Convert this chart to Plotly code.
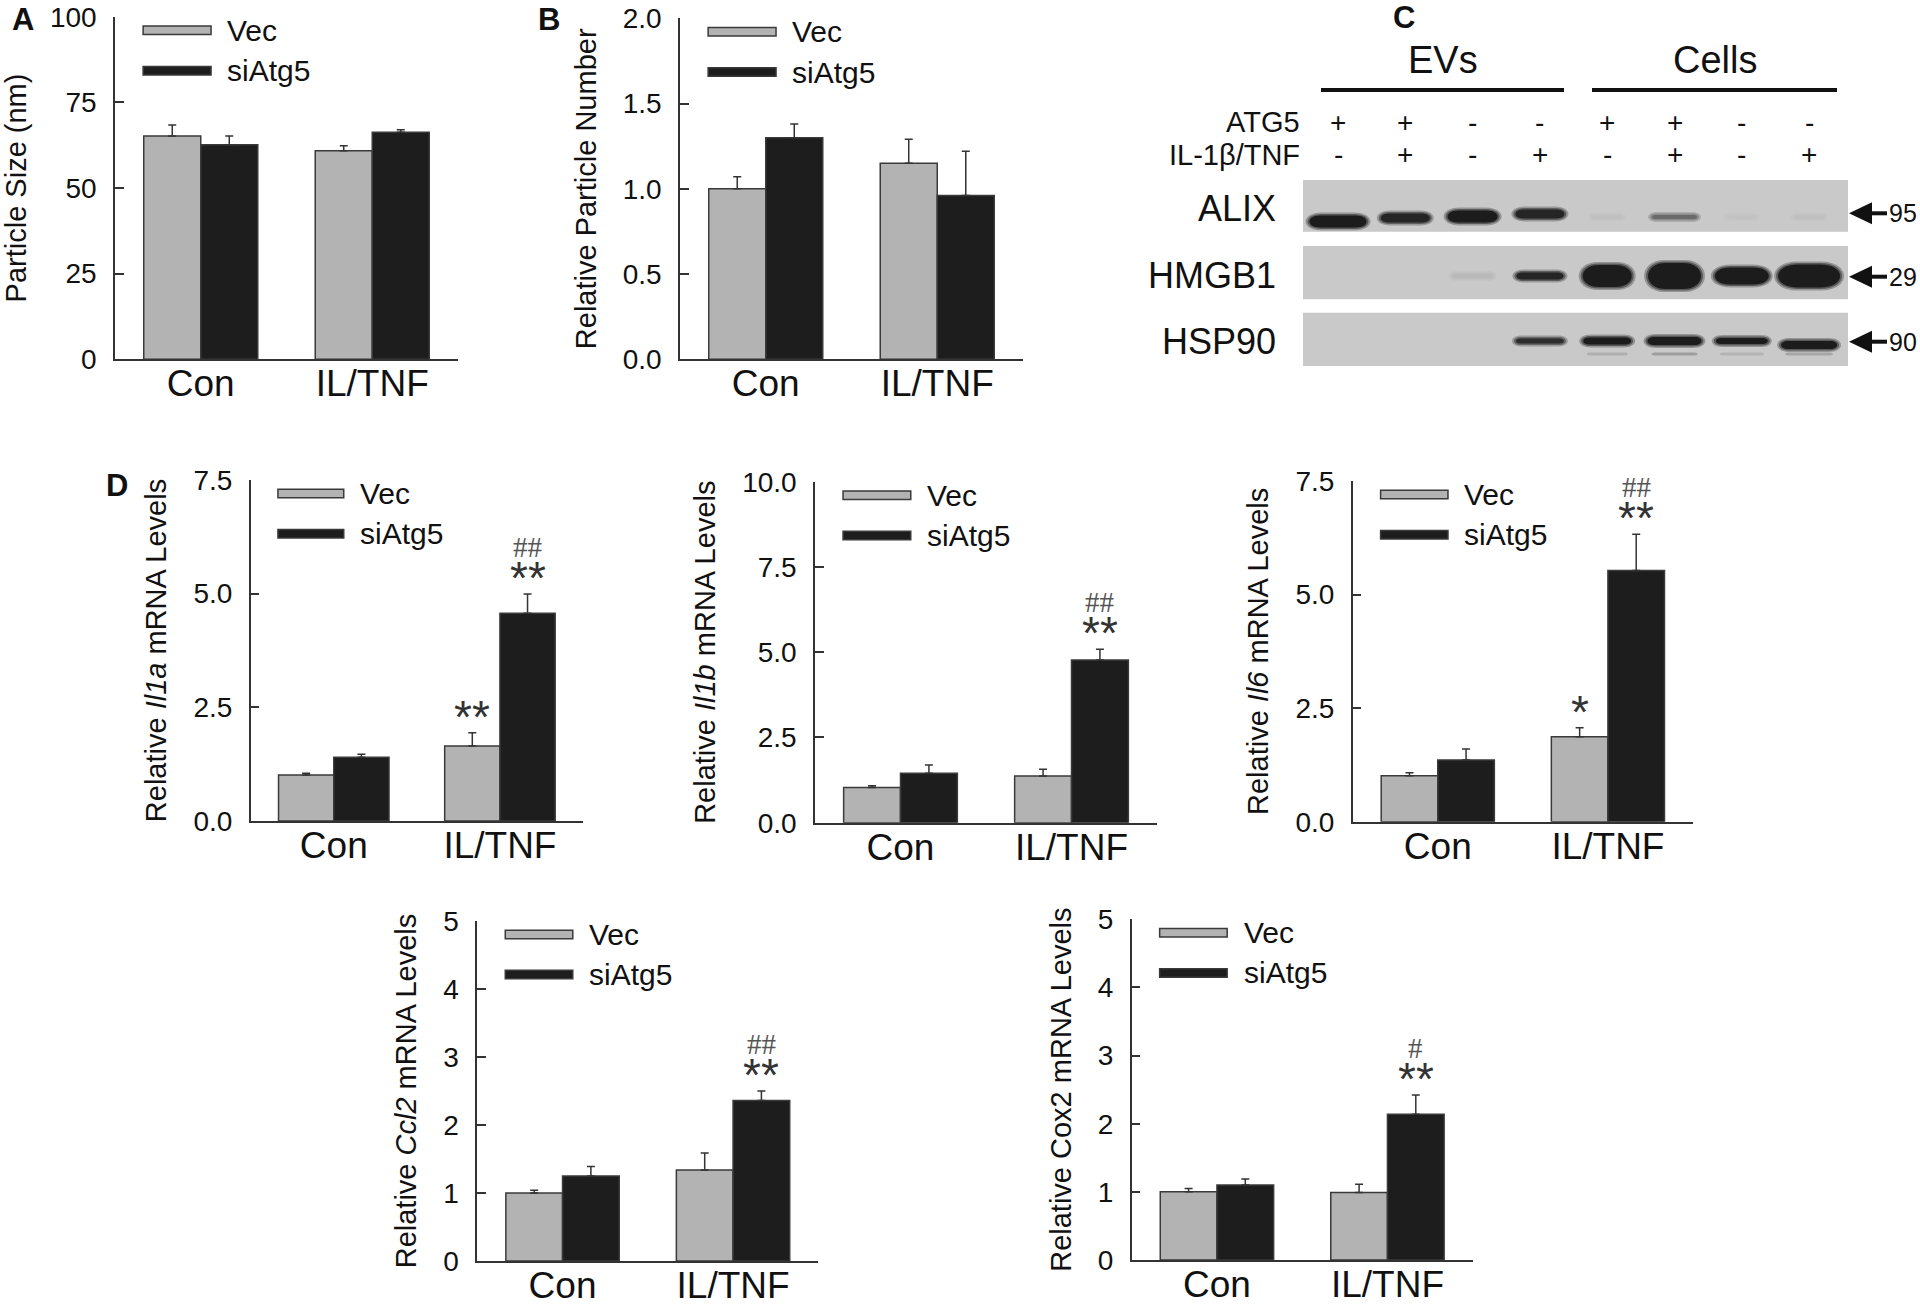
import plotly.graph_objects as go

# ---------------- data ----------------
categories = ["Con", "IL/TNF"]
series_names = ["Vec", "siAtg5"]

# Panel A: particle size (nm)
a_vec = [65.2, 60.9]
a_vec_err = [3.2, 1.4]
a_si = [62.6, 66.3]
a_si_err = [2.6, 0.7]

# Panel B: relative particle number
b_vec = [1.00, 1.15]
b_vec_err = [0.07, 0.14]
b_si = [1.30, 0.96]
b_si_err = [0.08, 0.26]

# Panel D: relative mRNA levels
il1a_vec = [1.01, 1.65]
il1a_vec_err = [0.04, 0.29]
il1a_si = [1.40, 4.57]
il1a_si_err = [0.07, 0.42]

il1b_vec = [1.03, 1.37]
il1b_vec_err = [0.05, 0.20]
il1b_si = [1.45, 4.77]
il1b_si_err = [0.24, 0.32]

il6_vec = [1.01, 1.87]
il6_vec_err = [0.07, 0.20]
il6_si = [1.36, 5.53]
il6_si_err = [0.24, 0.80]

ccl2_vec = [1.00, 1.34]
ccl2_vec_err = [0.04, 0.25]
ccl2_si = [1.25, 2.36]
ccl2_si_err = [0.14, 0.14]

cox2_vec = [1.00, 0.99]
cox2_vec_err = [0.05, 0.12]
cox2_si = [1.10, 2.14]
cox2_si_err = [0.09, 0.28]

# significance marks (per category)
il1a_vec_sig = ["", "**"]; il1a_si_sig = ["", "**"]; il1a_si_hash = ["", "##"]
il1b_vec_sig = ["", ""];   il1b_si_sig = ["", "**"]; il1b_si_hash = ["", "##"]
il6_vec_sig = ["", "*"];   il6_si_sig = ["", "**"];  il6_si_hash = ["", "##"]
ccl2_vec_sig = ["", ""];   ccl2_si_sig = ["", "**"]; ccl2_si_hash = ["", "##"]
cox2_vec_sig = ["", ""];   cox2_si_sig = ["", "**"]; cox2_si_hash = ["", "#"]
no_sig = ["", ""]

# Panel C: western blot
blot_groups = ["EVs", "Cells"]
blot_atg5 = ["+", "+", "-", "-", "+", "+", "-", "-"]
blot_il = ["-", "+", "-", "+", "-", "+", "-", "+"]
blot_proteins = ["ALIX", "HMGB1", "HSP90"]
blot_mw = ["95", "29", "90"]
alix_intensity = [1.0, 0.95, 1.0, 0.95, 0.06, 0.55, 0.04, 0.06]
alix_width = [57, 49, 50, 49, 30, 45, 30, 30]
alix_height = [12, 9, 12, 9, 3, 4, 3, 3]
hmgb1_intensity = [0, 0, 0.1, 0.95, 1.0, 1.0, 1.0, 1.0]
hmgb1_width = [0, 0, 40, 47, 49, 53, 54, 62]
hmgb1_height = [0, 0, 4, 7, 22, 26, 17, 23]
hsp90_intensity = [0, 0, 0, 0.9, 1.0, 1.0, 1.0, 1.0]
hsp90_width = [0, 0, 0, 48, 48, 54, 52, 56]
hsp90_height = [0, 0, 0, 5, 7, 8, 6, 8]
hsp90_lower_intensity = [0, 0, 0, 0, 0.15, 0.25, 0.12, 0.2]

# ---------------- styles / layout helpers ----------------
W, H = 1920, 1306
GRAY = "#b3b3b3"
BLACK = "#1d1d1d"
EDGE = "#3a3a3a"
AX = "#333333"
FONT = "Liberation Sans, Arial, sans-serif"
SERIF = "Liberation Serif, Times New Roman, serif"
BARGAP = 0.335


def px(x):
    return x / W


def py(y):
    return 1 - y / H


panels = [
    dict(vec=a_vec, vec_err=a_vec_err, si=a_si, si_err=a_si_err,
         title="Particle Size (nm)", yrange=[0, 100], tickvals=[0, 25, 50, 75, 100],
         ticktext=["0", "25", "50", "75", "100"],
         dom_x=(115, 458), dom_y=(359.3, 16.7),
         vec_sig=no_sig, si_sig=no_sig, si_hash=no_sig),
    dict(vec=b_vec, vec_err=b_vec_err, si=b_si, si_err=b_si_err,
         title="Relative Particle Number", yrange=[0, 2.0], tickvals=[0, 0.5, 1.0, 1.5, 2.0],
         ticktext=["0.0", "0.5", "1.0", "1.5", "2.0"],
         dom_x=(680, 1023), dom_y=(359.3, 18.3),
         vec_sig=no_sig, si_sig=no_sig, si_hash=no_sig),
    dict(vec=il1a_vec, vec_err=il1a_vec_err, si=il1a_si, si_err=il1a_si_err,
         title="Relative <i>Il1a</i> mRNA Levels", yrange=[0, 7.5], tickvals=[0, 2.5, 5.0, 7.5],
         ticktext=["0.0", "2.5", "5.0", "7.5"],
         dom_x=(250.7, 583), dom_y=(821, 480),
         vec_sig=il1a_vec_sig, si_sig=il1a_si_sig, si_hash=il1a_si_hash),
    dict(vec=il1b_vec, vec_err=il1b_vec_err, si=il1b_si, si_err=il1b_si_err,
         title="Relative <i>Il1b</i> mRNA Levels", yrange=[0, 10], tickvals=[0, 2.5, 5.0, 7.5, 10.0],
         ticktext=["0.0", "2.5", "5.0", "7.5", "10.0"],
         dom_x=(815, 1157), dom_y=(822.7, 481.7),
         vec_sig=il1b_vec_sig, si_sig=il1b_si_sig, si_hash=il1b_si_hash),
    dict(vec=il6_vec, vec_err=il6_vec_err, si=il6_si, si_err=il6_si_err,
         title="Relative <i>Il6</i> mRNA Levels", yrange=[0, 7.5], tickvals=[0, 2.5, 5.0, 7.5],
         ticktext=["0.0", "2.5", "5.0", "7.5"],
         dom_x=(1352.7, 1693), dom_y=(821.7, 481),
         vec_sig=il6_vec_sig, si_sig=il6_si_sig, si_hash=il6_si_hash),
    dict(vec=ccl2_vec, vec_err=ccl2_vec_err, si=ccl2_si, si_err=ccl2_si_err,
         title="Relative <i>Ccl2</i> mRNA Levels", yrange=[0, 5], tickvals=[0, 1, 2, 3, 4, 5],
         ticktext=["0", "1", "2", "3", "4", "5"],
         dom_x=(477.3, 818.3), dom_y=(1261, 921),
         vec_sig=ccl2_vec_sig, si_sig=ccl2_si_sig, si_hash=ccl2_si_hash),
    dict(vec=cox2_vec, vec_err=cox2_vec_err, si=cox2_si, si_err=cox2_si_err,
         title="Relative Cox2 mRNA Levels", yrange=[0, 5], tickvals=[0, 1, 2, 3, 4, 5],
         ticktext=["0", "1", "2", "3", "4", "5"],
         dom_x=(1131.7, 1472.7), dom_y=(1260, 919.3),
         vec_sig=cox2_vec_sig, si_sig=cox2_si_sig, si_hash=cox2_si_hash),
]

fig = go.Figure()
shapes = []
annotations = []
layout = dict(
    width=W, height=H, margin=dict(l=0, r=0, t=0, b=0, autoexpand=False),
    paper_bgcolor="white", plot_bgcolor="white",
    barmode="group", bargap=BARGAP, bargroupgap=0,
    showlegend=False, font=dict(family=FONT, color="#111"),
)

bar_off = (1 - BARGAP) / 4  # centre offset of each bar within its group

for i, p in enumerate(panels):
    n = "" if i == 0 else str(i + 1)
    xa, ya = "x" + n, "y" + n
    for name, vals, errs, color in [(series_names[0], p["vec"], p["vec_err"], GRAY),
                                    (series_names[1], p["si"], p["si_err"], BLACK)]:
        fig.add_trace(go.Bar(
            x=categories, y=vals, name=name, xaxis=xa, yaxis=ya,
            marker=dict(color=color, line=dict(color=EDGE, width=1.5)),
            error_y=dict(type="data", array=errs, arrayminus=[0] * len(errs), symmetric=False,
                         color=AX, thickness=1.5, width=4),
            showlegend=False,
        ))
    layout["xaxis" + n] = dict(
        domain=[px(p["dom_x"][0]), px(p["dom_x"][1])], anchor=ya, automargin=False,
        type="category", range=[-0.5, 1.5], showline=True, linecolor=AX, linewidth=1.5,
        ticks="", showgrid=False, zeroline=False, ticklabelstandoff=-9,
        tickfont=dict(size=37, family=FONT, color="#111"),
        fixedrange=True,
    )
    layout["yaxis" + n] = dict(
        domain=[py(p["dom_y"][0]), py(p["dom_y"][1])], anchor=xa, automargin=False,
        range=p["yrange"], tickvals=p["tickvals"], ticktext=p["ticktext"],
        ticks="inside", ticklen=9, tickwidth=1.5, tickcolor=AX,
        showline=True, linecolor=AX, linewidth=1.5, showgrid=False, zeroline=False,
        tickfont=dict(size=28, family=FONT, color="#111"), ticklabelstandoff=11,
        title=dict(text=p["title"], font=dict(size=29, family=FONT, color="#111"), standoff=18),
        fixedrange=True,
    )
    # legend drawn inside each panel
    for k, (name, color, y0, y1) in enumerate([(series_names[0], GRAY, 0.948, 0.973),
                                               (series_names[1], BLACK, 0.830, 0.855)]):
        shapes.append(dict(type="rect", xref=xa + " domain", yref=ya + " domain",
                           x0=0.082, x1=0.28, y0=y0, y1=y1, fillcolor=color,
                           line=dict(color=EDGE, width=1.5)))
        annotations.append(dict(text=name, xref=xa + " domain", yref=ya + " domain",
                                x=0.322, y=(y0 + y1) / 2, xanchor="left", yanchor="middle",
                                showarrow=False, font=dict(size=30, family=FONT, color="#111")))
    # significance marks
    for j in range(len(categories)):
        top_v = p["vec"][j] + p["vec_err"][j]
        top_s = p["si"][j] + p["si_err"][j]
        if p["vec_sig"][j]:
            annotations.append(dict(text=p["vec_sig"][j], xref=xa, yref=ya, x=j - bar_off, y=top_v,
                                    yanchor="middle", yshift=16, showarrow=False,
                                    font=dict(size=46, family=FONT, color="#333")))
        if p["si_sig"][j]:
            annotations.append(dict(text=p["si_sig"][j], xref=xa, yref=ya, x=j + bar_off, y=top_s,
                                    yanchor="middle", yshift=16, showarrow=False,
                                    font=dict(size=46, family=FONT, color="#333")))
        if p["si_hash"][j]:
            annotations.append(dict(text=p["si_hash"][j], xref=xa, yref=ya, x=j + bar_off, y=top_s,
                                    yanchor="middle", yshift=47, showarrow=False,
                                    font=dict(size=29, family=SERIF, color="#555")))

# panel letters
for letter, (lx, ly) in zip(["A", "B", "C", "D"], [(23, 20), (549, 20), (1404, 18), (117, 486)]):
    annotations.append(dict(text="<b>%s</b>" % letter, xref="paper", yref="paper", x=px(lx), y=py(ly),
                            xanchor="center", yanchor="middle", showarrow=False,
                            font=dict(size=31, family=FONT, color="#111")))

# ---------------- panel C: western blot ----------------
LANE0, LANE_STEP = 1338, 67.3
lane_x = [LANE0 + k * LANE_STEP for k in range(len(blot_atg5))]
BLOT_X0, BLOT_X1 = 1303, 1848
row_boxes = [(180, 231.7), (246, 299.3), (312.7, 366)]
row_band_y = [217, 276, 341]
alix_shift = [4.5, 1, -0.5, -3, 0, 0, 0, 0]
BG = 201


def gray_of(t):
    v = int(round(BG - t * (BG - 28)))
    return "rgb(%d,%d,%d)" % (v, v, v)


def band_path(xc, yc, w, h):
    r = min(h * 0.9, w / 3)
    x0, x1 = xc - w / 2, xc + w / 2
    yt, yb = yc - h / 2, yc + h / 2
    pts = [
        ("M", [(x0 + r, yt)]),
        ("L", [(x1 - r, yt)]),
        ("C", [(x1 + r / 3, yt), (x1 + r / 3, yb), (x1 - r, yb)]),
        ("L", [(x0 + r, yb)]),
        ("C", [(x0 - r / 3, yb), (x0 - r / 3, yt), (x0 + r, yt)]),
    ]
    s = ""
    for cmd, pl in pts:
        s += cmd + " ".join("%.5f,%.5f" % (px(a), py(b)) for a, b in pl) + " "
    return s + "Z"


def add_band(xc, yc, w, h, t, soft=True):
    if t <= 0 or w <= 0:
        return
    layers = [(8, 6, 0.3), (4, 3, 0.65), (0, 0, 1.0)] if soft else [(0, 0, 1.0)]
    for dw, dh, f in layers:
        shapes.append(dict(type="path", xref="paper", yref="paper",
                           path=band_path(xc, yc, w + dw, h + dh),
                           fillcolor=gray_of(t * f), line=dict(width=0), layer="above"))


# blot membranes
for (y0, y1) in row_boxes:
    shapes.append(dict(type="rect", xref="paper", yref="paper", x0=px(BLOT_X0), x1=px(BLOT_X1),
                       y0=py(y1), y1=py(y0), fillcolor=gray_of(0), line=dict(width=0),
                       layer="above"))

for k, xc in enumerate(lane_x):
    add_band(xc, row_band_y[0] + alix_shift[k], alix_width[k], alix_height[k], alix_intensity[k])
    add_band(xc, row_band_y[1], hmgb1_width[k], hmgb1_height[k], hmgb1_intensity[k])
    add_band(xc, row_band_y[2] + (4 if k == 7 else 0), hsp90_width[k], hsp90_height[k], hsp90_intensity[k])
    add_band(xc, row_band_y[2] + 13, hsp90_width[k] * 0.85, 3, hsp90_lower_intensity[k], soft=False)

# group headers with bars
for gi, (label, (lx0, lx1)) in enumerate(zip(blot_groups, [(1321, 1564), (1592, 1837)])):
    shapes.append(dict(type="line", xref="paper", yref="paper", x0=px(lx0), x1=px(lx1),
                       y0=py(90), y1=py(90), line=dict(color="#111", width=4)))
    annotations.append(dict(text=label, xref="paper", yref="paper", x=px((lx0 + lx1) / 2), y=py(60),
                            xanchor="center", yanchor="middle", showarrow=False,
                            font=dict(size=38, family=FONT, color="#111")))

# treatment rows
for label, signs, yy in [("ATG5", blot_atg5, 122), ("IL-1β/TNF", blot_il, 155)]:
    annotations.append(dict(text=label, xref="paper", yref="paper", x=px(1302), y=py(yy),
                            xanchor="right", yanchor="middle", showarrow=False,
                            font=dict(size=29, family=FONT, color="#111")))
    for xc, s in zip(lane_x, signs):
        annotations.append(dict(text=s, xref="paper", yref="paper", x=px(xc), y=py(yy),
                                xanchor="center", yanchor="middle", showarrow=False,
                                font=dict(size=28, family=FONT, color="#111")))

# protein labels, arrows, MW
for name, mw, yy, ly in zip(blot_proteins, blot_mw, [213.3, 276.7, 341.7], [208, 276, 341]):
    annotations.append(dict(text=name, xref="paper", yref="paper", x=px(1278), y=py(ly),
                            xanchor="right", yanchor="middle", showarrow=False,
                            font=dict(size=36, family=FONT, color="#111")))
    tri = "M%.5f,%.5f L%.5f,%.5f L%.5f,%.5f Z" % (px(1849), py(yy), px(1872), py(yy - 11),
                                                   px(1872), py(yy + 11))
    shapes.append(dict(type="path", xref="paper", yref="paper", path=tri, fillcolor="#111",
                       line=dict(width=0)))
    shapes.append(dict(type="line", xref="paper", yref="paper", x0=px(1868), x1=px(1887),
                       y0=py(yy), y1=py(yy), line=dict(color="#111", width=4)))
    annotations.append(dict(text=mw, xref="paper", yref="paper", x=px(1887), y=py(yy),
                            xanchor="left", yanchor="middle", showarrow=False,
                            font=dict(size=25, family=FONT, color="#111")))

layout["shapes"] = shapes
layout["annotations"] = annotations
fig.update_layout(**layout)
fig.write_html("out.html", config={"displayModeBar": False},
               post_script="document.body.style.margin='0px';document.body.style.overflow='hidden';")
